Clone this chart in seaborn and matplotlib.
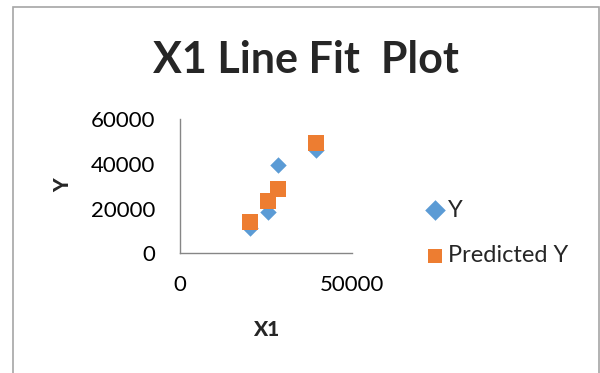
import matplotlib
matplotlib.use("Agg")
import matplotlib.pyplot as plt
import seaborn as sns
import pandas as pd
from matplotlib.patches import Rectangle

# Data
x1_values = [20300, 25500, 28600, 39500]
y_values = [11200, 18600, 39500, 46200]
predicted_y = [13900, 23400, 28900, 49200]
series_names = ["Y", "Predicted Y"]
x_ticks = [0, 50000]
y_ticks = [0, 20000, 40000, 60000]

df = pd.DataFrame({
    "X1": x1_values * 2,
    "Value": y_values + predicted_y,
    "Series": [series_names[0]] * len(x1_values) + [series_names[1]] * len(x1_values),
})

sns.set_theme(style="white")
plt.rcParams["font.family"] = ["Lato", "DejaVu Sans"]

fig = plt.figure(figsize=(6, 3.73), dpi=100)
fig.patch.set_facecolor("white")
ax = fig.add_axes([0.30, 0.321, 0.287, 0.36])

blue = "#5B9BD5"
orange = "#ED7D31"

sns.scatterplot(data=df[df["Series"] == "Y"], x="X1", y="Value", marker="D",
                color=blue, s=70, linewidth=0, ax=ax, label="Y", zorder=2)
sns.scatterplot(data=df[df["Series"] == "Predicted Y"], x="X1", y="Value", marker="s",
                color=orange, s=140, linewidth=0, ax=ax, label="Predicted Y", zorder=3)

ax.set_xlim(0, 50000)
ax.set_ylim(0, 60000)
ax.set_xticks(x_ticks)
ax.set_yticks(y_ticks)
ax.set_xticklabels([str(v) for v in x_ticks])
ax.set_yticklabels([str(v) for v in y_ticks])

for side in ["top", "right"]:
    ax.spines[side].set_visible(False)
for side in ["left", "bottom"]:
    ax.spines[side].set_color("#868686")
    ax.spines[side].set_linewidth(1.0)

ax.tick_params(axis="both", which="major", direction="out", length=6, width=1,
               color="#868686", labelsize=16, labelcolor="black")
ax.tick_params(axis="y", pad=12)
ax.tick_params(axis="x", pad=10)

ax.set_xlabel("X1", fontsize=15, fontweight="black")
ax.set_ylabel("Y", fontsize=15, fontweight="black")
ax.xaxis.label.set_va("center")
ax.yaxis.label.set_va("center")
ax.xaxis.set_label_coords(0.50, -0.57)
ax.yaxis.set_label_coords(-0.68, 0.51)

fig.text(306 / 600, 1 - 60 / 373, "X1 Line Fit  Plot", ha="center", va="center",
         fontsize=31, fontweight="bold")

leg = ax.legend(loc="center left", bbox_to_anchor=(1.36, 0.151), frameon=False,
                fontsize=17, labelspacing=1.05, handletextpad=0.05, handlelength=1.0,
                borderaxespad=0)
for h in leg.legend_handles:
    h.set_sizes([110])

fig.patches.append(Rectangle((13 / 600, -0.2), (599 - 13) / 600, 1.2 - 6.5 / 373,
                             transform=fig.transFigure, fill=False,
                             edgecolor="#A6A6A6", linewidth=1.2))

fig.savefig("out.png", dpi=100, facecolor="white")
